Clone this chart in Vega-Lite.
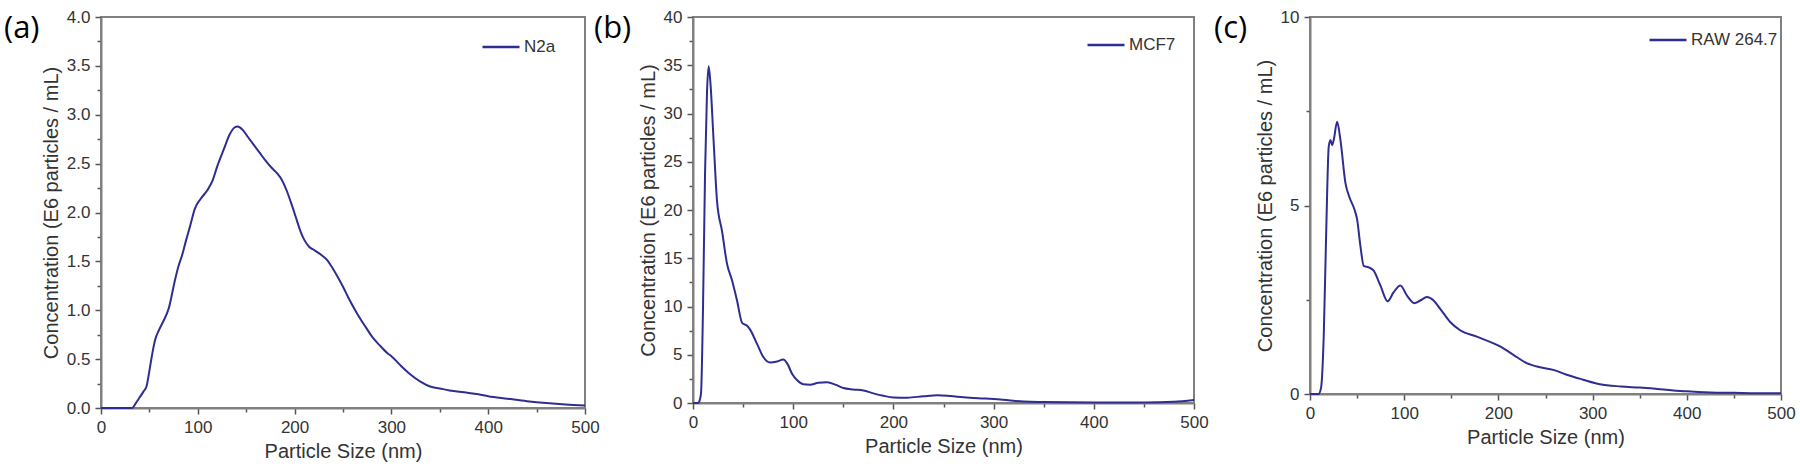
{
  "$schema": "https://vega.github.io/schema/vega-lite/v6.json",
  "background": "white",
  "padding": {"left": 3, "top": 7, "right": 6, "bottom": 5},
  "datasets": {
    "n2a": [
      {"size": 0, "conc": 0, "cell": "N2a"}, {"size": 10, "conc": 0, "cell": "N2a"}, {"size": 20, "conc": 0, "cell": "N2a"}, {"size": 32, "conc": 0, "cell": "N2a"},
      {"size": 36, "conc": 0.05, "cell": "N2a"}, {"size": 40, "conc": 0.11, "cell": "N2a"}, {"size": 44, "conc": 0.17, "cell": "N2a"}, {"size": 47, "conc": 0.22, "cell": "N2a"},
      {"size": 50, "conc": 0.38, "cell": "N2a"}, {"size": 52, "conc": 0.5, "cell": "N2a"}, {"size": 56, "conc": 0.7, "cell": "N2a"}, {"size": 60, "conc": 0.8, "cell": "N2a"},
      {"size": 64, "conc": 0.88, "cell": "N2a"}, {"size": 70, "conc": 1.02, "cell": "N2a"}, {"size": 76, "conc": 1.29, "cell": "N2a"}, {"size": 80, "conc": 1.45, "cell": "N2a"},
      {"size": 84, "conc": 1.57, "cell": "N2a"}, {"size": 88, "conc": 1.72, "cell": "N2a"}, {"size": 92, "conc": 1.86, "cell": "N2a"}, {"size": 97, "conc": 2.04, "cell": "N2a"},
      {"size": 103, "conc": 2.14, "cell": "N2a"}, {"size": 110, "conc": 2.23, "cell": "N2a"}, {"size": 115, "conc": 2.32, "cell": "N2a"}, {"size": 120, "conc": 2.47, "cell": "N2a"},
      {"size": 127, "conc": 2.65, "cell": "N2a"}, {"size": 133, "conc": 2.8, "cell": "N2a"}, {"size": 138, "conc": 2.87, "cell": "N2a"}, {"size": 141, "conc": 2.88, "cell": "N2a"},
      {"size": 146, "conc": 2.85, "cell": "N2a"}, {"size": 152, "conc": 2.77, "cell": "N2a"}, {"size": 158, "conc": 2.69, "cell": "N2a"}, {"size": 164, "conc": 2.61, "cell": "N2a"},
      {"size": 170, "conc": 2.53, "cell": "N2a"}, {"size": 176, "conc": 2.46, "cell": "N2a"}, {"size": 182, "conc": 2.4, "cell": "N2a"}, {"size": 187, "conc": 2.33, "cell": "N2a"},
      {"size": 192, "conc": 2.22, "cell": "N2a"}, {"size": 197, "conc": 2.08, "cell": "N2a"}, {"size": 202, "conc": 1.93, "cell": "N2a"}, {"size": 206, "conc": 1.81, "cell": "N2a"},
      {"size": 210, "conc": 1.72, "cell": "N2a"}, {"size": 215, "conc": 1.65, "cell": "N2a"}, {"size": 221, "conc": 1.61, "cell": "N2a"}, {"size": 227, "conc": 1.57, "cell": "N2a"},
      {"size": 233, "conc": 1.52, "cell": "N2a"}, {"size": 238, "conc": 1.45, "cell": "N2a"}, {"size": 244, "conc": 1.35, "cell": "N2a"}, {"size": 250, "conc": 1.24, "cell": "N2a"},
      {"size": 256, "conc": 1.12, "cell": "N2a"}, {"size": 262, "conc": 1.01, "cell": "N2a"}, {"size": 268, "conc": 0.91, "cell": "N2a"}, {"size": 274, "conc": 0.82, "cell": "N2a"},
      {"size": 280, "conc": 0.73, "cell": "N2a"}, {"size": 288, "conc": 0.64, "cell": "N2a"}, {"size": 296, "conc": 0.56, "cell": "N2a"}, {"size": 300, "conc": 0.53, "cell": "N2a"},
      {"size": 310, "conc": 0.43, "cell": "N2a"}, {"size": 320, "conc": 0.34, "cell": "N2a"}, {"size": 330, "conc": 0.27, "cell": "N2a"}, {"size": 340, "conc": 0.22, "cell": "N2a"},
      {"size": 350, "conc": 0.2, "cell": "N2a"}, {"size": 360, "conc": 0.18, "cell": "N2a"}, {"size": 375, "conc": 0.16, "cell": "N2a"}, {"size": 390, "conc": 0.14, "cell": "N2a"},
      {"size": 400, "conc": 0.12, "cell": "N2a"}, {"size": 420, "conc": 0.095, "cell": "N2a"}, {"size": 440, "conc": 0.07, "cell": "N2a"}, {"size": 460, "conc": 0.05, "cell": "N2a"},
      {"size": 480, "conc": 0.035, "cell": "N2a"}, {"size": 500, "conc": 0.025, "cell": "N2a"}
    ],
    "mcf7": [
      {"size": 0, "conc": 0, "cell": "MCF7"}, {"size": 5, "conc": 0, "cell": "MCF7"}, {"size": 6, "conc": 0.1, "cell": "MCF7"}, {"size": 8, "conc": 1, "cell": "MCF7"},
      {"size": 10, "conc": 9.9, "cell": "MCF7"}, {"size": 12, "conc": 23.7, "cell": "MCF7"}, {"size": 14, "conc": 32.3, "cell": "MCF7"}, {"size": 15.6, "conc": 34.9, "cell": "MCF7"},
      {"size": 17.3, "conc": 33.3, "cell": "MCF7"}, {"size": 20.6, "conc": 27.1, "cell": "MCF7"}, {"size": 24, "conc": 20.9, "cell": "MCF7"}, {"size": 29, "conc": 17.8, "cell": "MCF7"},
      {"size": 34, "conc": 14.4, "cell": "MCF7"}, {"size": 39, "conc": 12.7, "cell": "MCF7"}, {"size": 44, "conc": 10.6, "cell": "MCF7"}, {"size": 49, "conc": 8.3, "cell": "MCF7"},
      {"size": 54, "conc": 8.0, "cell": "MCF7"}, {"size": 57, "conc": 7.6, "cell": "MCF7"}, {"size": 64, "conc": 6.1, "cell": "MCF7"}, {"size": 70, "conc": 4.8, "cell": "MCF7"},
      {"size": 77, "conc": 4.2, "cell": "MCF7"}, {"size": 84, "conc": 4.3, "cell": "MCF7"}, {"size": 90, "conc": 4.5, "cell": "MCF7"}, {"size": 94, "conc": 4.1, "cell": "MCF7"},
      {"size": 99, "conc": 3.0, "cell": "MCF7"}, {"size": 104, "conc": 2.35, "cell": "MCF7"}, {"size": 110, "conc": 1.95, "cell": "MCF7"}, {"size": 117, "conc": 1.9, "cell": "MCF7"},
      {"size": 125, "conc": 2.1, "cell": "MCF7"}, {"size": 134, "conc": 2.15, "cell": "MCF7"}, {"size": 142, "conc": 1.9, "cell": "MCF7"}, {"size": 150, "conc": 1.55, "cell": "MCF7"},
      {"size": 160, "conc": 1.4, "cell": "MCF7"}, {"size": 170, "conc": 1.3, "cell": "MCF7"}, {"size": 180, "conc": 1.0, "cell": "MCF7"}, {"size": 190, "conc": 0.75, "cell": "MCF7"},
      {"size": 200, "conc": 0.58, "cell": "MCF7"}, {"size": 214, "conc": 0.55, "cell": "MCF7"}, {"size": 230, "conc": 0.7, "cell": "MCF7"}, {"size": 244, "conc": 0.8, "cell": "MCF7"},
      {"size": 257, "conc": 0.72, "cell": "MCF7"}, {"size": 270, "conc": 0.6, "cell": "MCF7"}, {"size": 285, "conc": 0.5, "cell": "MCF7"}, {"size": 300, "conc": 0.42, "cell": "MCF7"},
      {"size": 315, "conc": 0.28, "cell": "MCF7"}, {"size": 330, "conc": 0.15, "cell": "MCF7"}, {"size": 350, "conc": 0.1, "cell": "MCF7"}, {"size": 400, "conc": 0.05, "cell": "MCF7"},
      {"size": 450, "conc": 0.05, "cell": "MCF7"}, {"size": 480, "conc": 0.12, "cell": "MCF7"}, {"size": 500, "conc": 0.3, "cell": "MCF7"}
    ],
    "raw": [
      {"size": 0, "conc": 0, "cell": "RAW 264.7"}, {"size": 9, "conc": 0, "cell": "RAW 264.7"}, {"size": 11.7, "conc": 0.16, "cell": "RAW 264.7"}, {"size": 14.6, "conc": 1.56, "cell": "RAW 264.7"},
      {"size": 17.1, "conc": 4.19, "cell": "RAW 264.7"}, {"size": 19.9, "conc": 6.56, "cell": "RAW 264.7"}, {"size": 21.7, "conc": 6.74, "cell": "RAW 264.7"}, {"size": 23.5, "conc": 6.6, "cell": "RAW 264.7"},
      {"size": 25.2, "conc": 6.74, "cell": "RAW 264.7"}, {"size": 28.8, "conc": 7.22, "cell": "RAW 264.7"}, {"size": 32.3, "conc": 6.74, "cell": "RAW 264.7"}, {"size": 37.6, "conc": 5.6, "cell": "RAW 264.7"},
      {"size": 42.2, "conc": 5.2, "cell": "RAW 264.7"}, {"size": 47.1, "conc": 4.9, "cell": "RAW 264.7"}, {"size": 50, "conc": 4.63, "cell": "RAW 264.7"}, {"size": 53.5, "conc": 3.93, "cell": "RAW 264.7"},
      {"size": 57, "conc": 3.4, "cell": "RAW 264.7"}, {"size": 62.3, "conc": 3.36, "cell": "RAW 264.7"}, {"size": 67.6, "conc": 3.27, "cell": "RAW 264.7"}, {"size": 74.7, "conc": 2.88, "cell": "RAW 264.7"},
      {"size": 82.4, "conc": 2.46, "cell": "RAW 264.7"}, {"size": 88.8, "conc": 2.7, "cell": "RAW 264.7"}, {"size": 95.9, "conc": 2.88, "cell": "RAW 264.7"}, {"size": 103, "conc": 2.61, "cell": "RAW 264.7"},
      {"size": 110.7, "conc": 2.41, "cell": "RAW 264.7"}, {"size": 117, "conc": 2.48, "cell": "RAW 264.7"}, {"size": 124.2, "conc": 2.57, "cell": "RAW 264.7"}, {"size": 131.2, "conc": 2.48, "cell": "RAW 264.7"},
      {"size": 138.2, "conc": 2.26, "cell": "RAW 264.7"}, {"size": 148.8, "conc": 1.91, "cell": "RAW 264.7"}, {"size": 159.4, "conc": 1.69, "cell": "RAW 264.7"}, {"size": 177.1, "conc": 1.52, "cell": "RAW 264.7"},
      {"size": 201.8, "conc": 1.26, "cell": "RAW 264.7"}, {"size": 215.9, "conc": 1.04, "cell": "RAW 264.7"}, {"size": 230, "conc": 0.82, "cell": "RAW 264.7"}, {"size": 244.2, "conc": 0.71, "cell": "RAW 264.7"},
      {"size": 258.3, "conc": 0.64, "cell": "RAW 264.7"}, {"size": 272.5, "conc": 0.51, "cell": "RAW 264.7"}, {"size": 290, "conc": 0.38, "cell": "RAW 264.7"}, {"size": 307.7, "conc": 0.26, "cell": "RAW 264.7"},
      {"size": 330, "conc": 0.2, "cell": "RAW 264.7"}, {"size": 350, "conc": 0.17, "cell": "RAW 264.7"}, {"size": 375, "conc": 0.12, "cell": "RAW 264.7"}, {"size": 400, "conc": 0.07, "cell": "RAW 264.7"},
      {"size": 425, "conc": 0.04, "cell": "RAW 264.7"}, {"size": 450, "conc": 0.03, "cell": "RAW 264.7"}, {"size": 475, "conc": 0.02, "cell": "RAW 264.7"}, {"size": 500, "conc": 0.02, "cell": "RAW 264.7"}
    ]
  },
  "bounds": "flush",
  "spacing": 108,
  "resolve": {"scale": {"x": "independent", "y": "independent", "color": "independent"}},
  "hconcat": [
    {
      "width": 484,
      "height": 391,
      "title": {"text": "(a)", "anchor": "start", "frame": "group", "dx": -97, "dy": 7, "offset": -30, "baseline": "top", "font": "Open Sans", "fontSize": 31, "fontWeight": "normal", "color": "#000000"},
      "data": {"name": "n2a"},
      "mark": {"type": "line", "interpolate": "monotone", "strokeWidth": 2},
      "encoding": {
        "x": {"field": "size", "type": "quantitative", "scale": {"domain": [0, 500], "nice": false},
          "axis": {"title": "Particle Size (nm)", "values": [0, 50, 100, 150, 200, 250, 300, 350, 400, 450, 500],
            "labelExpr": "datum.value % 100 === 0 ? format(datum.value, 'd') : ''",
            "tickSize": {"condition": {"test": "datum.value % 100 === 0", "value": 6}, "value": 4}}},
        "y": {"field": "conc", "type": "quantitative", "scale": {"domain": [0, 4], "nice": false},
          "axis": {"title": "Concentration (E6 particles / mL)", "values": [0, 0.25, 0.5, 0.75, 1, 1.25, 1.5, 1.75, 2, 2.25, 2.5, 2.75, 3, 3.25, 3.5, 3.75, 4],
            "labelExpr": "datum.value % 0.5 === 0 ? format(datum.value, '.1f') : ''",
            "tickSize": {"condition": {"test": "datum.value % 0.5 === 0", "value": 6}, "value": 4}}},
        "color": {"field": "cell", "type": "nominal", "scale": {"range": ["#2e2e92"]},
          "legend": {"orient": "none", "legendX": 380, "legendY": 10, "title": null}}
      }
    },
    {
      "bounds": "flush",
      "spacing": 116,
      "resolve": {"scale": {"x": "independent", "y": "independent", "color": "independent"}},
      "hconcat": [
        {
          "width": 501,
          "height": 386,
          "title": {"text": "(b)", "anchor": "start", "frame": "group", "dx": -99, "dy": 7, "offset": -30, "baseline": "top", "font": "Open Sans", "fontSize": 31, "fontWeight": "normal", "color": "#000000"},
          "data": {"name": "mcf7"},
          "mark": {"type": "line", "interpolate": "monotone", "strokeWidth": 2},
          "encoding": {
            "x": {"field": "size", "type": "quantitative", "scale": {"domain": [0, 500], "nice": false},
              "axis": {"title": "Particle Size (nm)", "values": [0, 50, 100, 150, 200, 250, 300, 350, 400, 450, 500],
                "labelExpr": "datum.value % 100 === 0 ? format(datum.value, 'd') : ''",
                "tickSize": {"condition": {"test": "datum.value % 100 === 0", "value": 6}, "value": 4}}},
            "y": {"field": "conc", "type": "quantitative", "scale": {"domain": [0, 40], "nice": false},
              "axis": {"title": "Concentration (E6 particles / mL)", "values": [0, 2.5, 5, 7.5, 10, 12.5, 15, 17.5, 20, 22.5, 25, 27.5, 30, 32.5, 35, 37.5, 40],
                "labelExpr": "datum.value % 5 === 0 ? format(datum.value, 'd') : ''",
                "tickSize": {"condition": {"test": "datum.value % 5 === 0", "value": 6}, "value": 4}}},
            "color": {"field": "cell", "type": "nominal", "scale": {"range": ["#2e2e92"]},
              "legend": {"orient": "none", "legendX": 393, "legendY": 8, "title": null}}
          }
        },
        {
          "width": 471,
          "height": 377,
          "title": {"text": "(c)", "anchor": "start", "frame": "group", "dx": -96, "dy": 7, "offset": -30, "baseline": "top", "font": "Open Sans", "fontSize": 31, "fontWeight": "normal", "color": "#000000"},
          "data": {"name": "raw"},
          "mark": {"type": "line", "interpolate": "monotone", "strokeWidth": 2},
          "encoding": {
            "x": {"field": "size", "type": "quantitative", "scale": {"domain": [0, 500], "nice": false},
              "axis": {"title": "Particle Size (nm)", "values": [0, 50, 100, 150, 200, 250, 300, 350, 400, 450, 500],
                "labelExpr": "datum.value % 100 === 0 ? format(datum.value, 'd') : ''",
                "tickSize": {"condition": {"test": "datum.value % 100 === 0", "value": 6}, "value": 4}}},
            "y": {"field": "conc", "type": "quantitative", "scale": {"domain": [0, 10], "nice": false},
              "axis": {"title": "Concentration (E6 particles / mL)", "values": [0, 2.5, 5, 7.5, 10],
                "labelExpr": "datum.value % 5 === 0 ? format(datum.value, 'd') : ''",
                "tickSize": {"condition": {"test": "datum.value % 5 === 0", "value": 6}, "value": 4}}},
            "color": {"field": "cell", "type": "nominal", "scale": {"range": ["#2e2e92"]},
              "legend": {"orient": "none", "legendX": 338, "legendY": 3, "title": null}}
          }
        }
      ]
    }
  ],
  "config": {
    "font": "Liberation Sans",
    "view": {"stroke": "#808080", "strokeWidth": 2},
    "axis": {
      "grid": false,
      "domainColor": "#808080",
      "domainWidth": 2,
      "tickColor": "#555555",
      "tickWidth": 1.5,
      "labelFont": "Liberation Sans",
      "labelFontSize": 17,
      "labelColor": "#333333",
      "labelPadding": 5,
      "labelFlush": false,
      "labelOverlap": false,
      "titleFont": "Liberation Sans",
      "titleFontSize": 20,
      "titleFontWeight": "normal",
      "titleColor": "#333333"
    },
    "axisX": {"titlePadding": 6},
    "axisY": {"titlePadding": 5},
    "legend": {
      "padding": 0,
      "symbolType": "stroke",
      "symbolSize": 1369,
      "symbolStrokeWidth": 2.5,
      "labelFont": "Liberation Sans",
      "labelFontSize": 17,
      "labelColor": "#333333",
      "labelOffset": 3
    }
  }
}
